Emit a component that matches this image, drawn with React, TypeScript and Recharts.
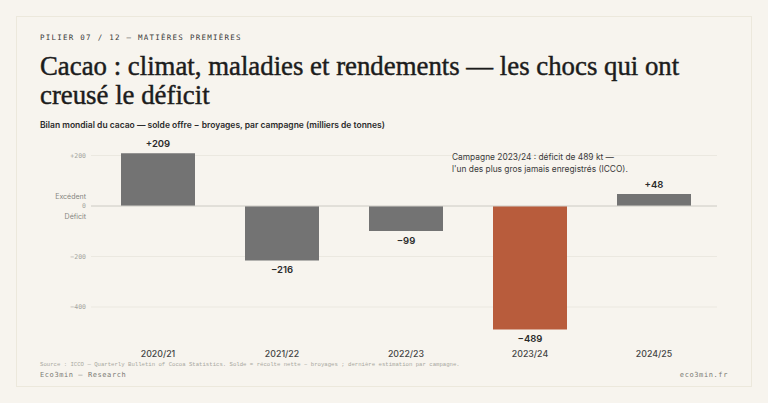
import React from "react";
import { BarChart, Bar, XAxis, YAxis, CartesianGrid, Cell, LabelList, ReferenceLine } from "recharts";

const campaigns = ["2020/21", "2021/22", "2022/23", "2023/24", "2024/25"];
const balances = [209, -216, -99, -489, 48];
const yTicks = [200, 0, -200, -400];
const data = campaigns.map((campaign, i) => ({ campaign, balance: balances[i] }));

const INTER = "Inter, sans-serif";
const SERIF = "'Liberation Serif', serif";
const MONO = "'DejaVu Sans Mono', monospace";
const fmt = (v: number) => (v > 0 ? `+${v}` : v < 0 ? `\u2212${Math.abs(v)}` : "0");

const abs = (left: number, top: number, extra: React.CSSProperties = {}): React.CSSProperties => ({
  position: "absolute", left, top, whiteSpace: "nowrap", ...extra,
});

const BarLabel = (p: any) => {
  const v = Number(p.value);
  const top = Math.min(p.y, p.y + p.height);
  const bottom = Math.max(p.y, p.y + p.height);
  const y = v >= 0 ? top - 6 : bottom + 12.5;
  return (
    <text x={p.x + p.width / 2} y={y} textAnchor="middle" fontFamily={INTER} fontSize={9.5} fontWeight={600} fill="#2b2b2b">
      {fmt(v)}
    </text>
  );
};

const CatTick = (p: any) => (
  <text x={p.x} y={p.y + 4} textAnchor="middle" fontFamily={INTER} fontSize={8.8} fontWeight={500} fill="#444">
    {p.payload.value}
  </text>
);

export default function App() {
  return (
    <div style={{ position: "absolute", left: 0, top: 0, width: 768, height: 403, background: "#f7f4ee", overflow: "hidden" }}>
      <div style={{ position: "absolute", left: 16, top: 16, width: 734, height: 369, border: "1px solid #ece8dc", boxSizing: "content-box" }} />
      <div style={abs(40, 33, { fontFamily: MONO, fontSize: 7.5, fontWeight: 500, letterSpacing: 1.25, lineHeight: "10px", color: "#3a3a3a" })}>
        PILIER 07 / 12 — MATIÈRES PREMIÈRES
      </div>
      <div style={abs(40, 52, { fontFamily: SERIF, fontSize: 26.8, fontWeight: 400, lineHeight: "29px", color: "#1c1c1c", WebkitTextStroke: "0.45px #1c1c1c" })}>
        Cacao : climat, maladies et rendements — les chocs qui ont<br />creusé le déficit
      </div>
      <div style={abs(40, 119, { fontFamily: INTER, fontSize: 8.5, fontWeight: 600, lineHeight: "12px", color: "#2b2b2b" })}>
        Bilan mondial du cacao — solde offre − broyages, par campagne (milliers de tonnes)
      </div>

      <div style={{ position: "absolute", left: 0, top: 0 }}>
        <BarChart width={768} height={403} data={data} margin={{ top: 145.4, right: 51, bottom: 38.1, left: 0 }}>
          <CartesianGrid horizontal vertical={false} horizontalValues={yTicks} stroke="#ebe8e0" strokeWidth={1} />
          <XAxis dataKey="campaign" axisLine={false} tickLine={false} padding={{ left: 5, right: 1 }} tick={<CatTick />} interval={0} height={20} />
          <YAxis
            width={91}
            domain={[-550, 240]}
            ticks={yTicks}
            axisLine={false}
            tickLine={false}
            tickSize={0}
            tickMargin={5}
            tickFormatter={fmt}
            tick={{ fontFamily: MONO, fontSize: 6.5, fill: "#a5a5a0" }}
          />
          <ReferenceLine y={0} stroke="#d2d0ca" strokeWidth={1} />
          <Bar dataKey="balance" barSize={74} isAnimationActive={false}>
            {data.map((d) => (
              <Cell key={d.campaign} fill={d.campaign === "2023/24" ? "#b85c3c" : "#737373"} />
            ))}
            <LabelList dataKey="balance" content={<BarLabel />} />
          </Bar>
        </BarChart>
      </div>

      <div style={abs(40, 192, { width: 46, textAlign: "right", fontFamily: INTER, fontSize: 7, lineHeight: "9px", color: "#85857f" })}>Excédent</div>
      <div style={abs(40, 212, { width: 46, textAlign: "right", fontFamily: INTER, fontSize: 7, lineHeight: "9px", color: "#85857f" })}>Déficit</div>
      <div style={abs(452, 151, { fontFamily: INTER, fontSize: 8.37, lineHeight: "12.3px", color: "#3a3a3a" })}>
        Campagne 2023/24 : déficit de 489 kt —<br />l'un des plus gros jamais enregistrés (ICCO).
      </div>
      <div style={abs(40, 361, { fontFamily: "'Liberation Mono', monospace", fontSize: 5.65, lineHeight: "8px", color: "#a8a8a0" })}>
        Source : ICCO — Quarterly Bulletin of Cocoa Statistics. Solde = récolte nette − broyages ; dernière estimation par campagne.
      </div>
      <div style={abs(40, 370, { fontFamily: MONO, fontSize: 7, letterSpacing: 0.58, lineHeight: "10px", color: "#7b7b75" })}>
        Eco3min — Research
      </div>
      <div style={{ position: "absolute", right: 40, top: 370, whiteSpace: "nowrap", fontFamily: MONO, fontSize: 7, letterSpacing: 0.6, lineHeight: "10px", color: "#7b7b75" }}>
        eco3min.fr
      </div>
    </div>
  );
}
